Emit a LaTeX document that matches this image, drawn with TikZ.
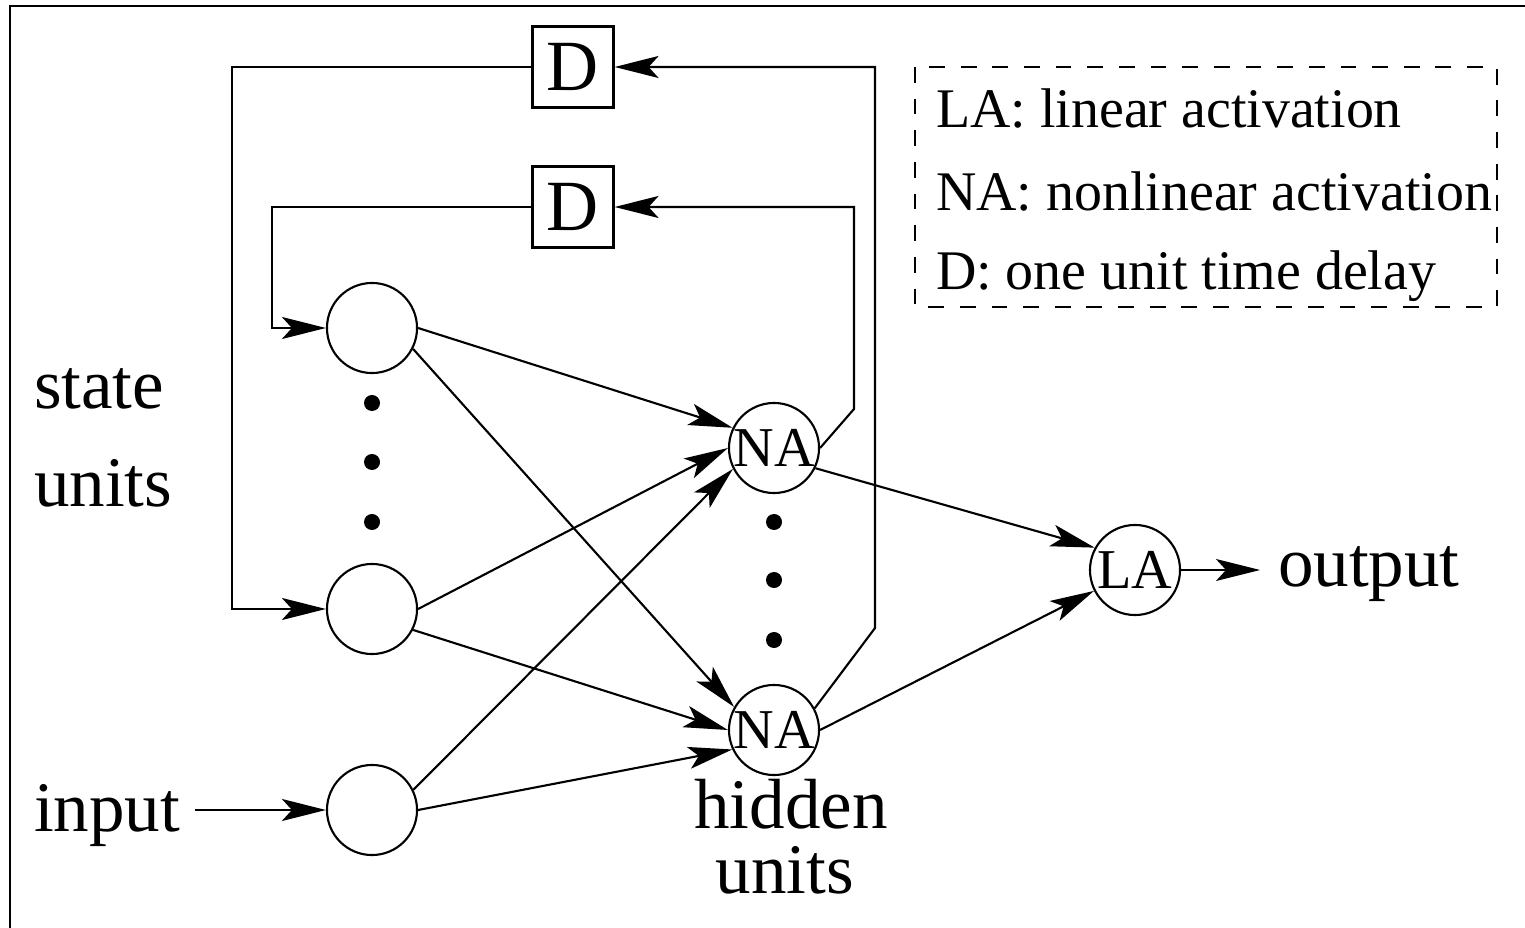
\documentclass[tikz,border=0pt]{standalone}
\usepackage{fontspec}
\setmainfont{Liberation Serif}
\usetikzlibrary{arrows.meta}

\begin{document}
\begin{tikzpicture}[x=0.01cm,y=-0.01cm,line width=0.6pt,
  >={Stealth[length=0.44cm,width=0.22cm,inset=0.1cm]},
  unit/.style={circle,draw,minimum size=0.9cm,inner sep=0pt,font=\fontsize{16}{18}\selectfont},
  delay/.style={rectangle,draw,minimum size=0.81cm,inner sep=0pt,font=\fontsize{20.5}{24}\selectfont},
  lbl/.style={inner sep=0pt,anchor=base west,font=\fontsize{20.2}{24}\selectfont},
  key/.style={inner sep=0pt,anchor=base west,font=\fontsize{15.9}{19}\selectfont},
  dot/.style={circle,fill,minimum size=0.16cm,inner sep=0pt}]
  \useasboundingbox (0,0) rectangle (1525,928);
  \draw (10,928) -- (10,6) -- (1525,6);
  \node[unit] (s1) at (372,328) {};
  \node[unit] (s2) at (372,609) {};
  \node[unit] (in) at (372,810) {};
  \node[unit] (h1) at (774,448) {NA};
  \node[unit] (h2) at (774,730) {NA};
  \node[unit] (la) at (1135,570) {LA};
  \node[delay] (d1) at (573,67) {D};
  \node[delay] (d2) at (573,207) {D};
  \foreach \y in {403,462,522} \node[dot] (sd\y) at (372,\y) {};
  \foreach \y in {522,580,640} \node[dot] (hd\y) at (774,\y) {};
  \node[lbl] (state) at (33,409) {state};
  \node[lbl] (sunits) at (33,507) {units};
  \node[lbl] (input) at (33,831) {input};
  \node[lbl] (output) at (1277,586) {output};
  \node[lbl,anchor=base] (hidden) at (791,828) {hidden};
  \node[lbl,anchor=base] (hunits) at (785,893) {units};
  \draw[dash pattern=on 4.5pt off 4.5pt] (915,67) rectangle (1497,307);
  \node[key] (k1) at (935,128) {LA: linear activation};
  \node[key] (k2) at (935,211) {NA: nonlinear activation};
  \node[key] (k3) at (935,290) {D: one unit time delay};
  \draw[->,shorten <=0.14cm] (input.east |- in.west) -- (in.west);
  \draw[->,shorten >=0.17cm] (la.east) -- (output.west |- la.east);
  \draw[->] (s1.0) -- (h1.154);
  \draw[->] (s1.-27) -- (h2.150);
  \draw[->] (s2.0) -- (h1.180);
  \draw[->] (s2.-27) -- (h2.180);
  \draw[->] (in.26) -- (h1.207);
  \draw[->] (in.0) -- (h2.205);
  \draw[->] (h1.-26) -- (la.151);
  \draw[->] (h2.0) -- (la.207);
  \draw[->] (h2.28) -- (875,628) |- (d1.east);
  \draw[->] (h1.0) -- (854,409) |- (d2.east);
  \draw[->] (d1.west) -- (232,67) |- (s2.west);
  \draw[->] (d2.west) -- (272,207) |- (s1.west);
\end{tikzpicture}
\end{document}
